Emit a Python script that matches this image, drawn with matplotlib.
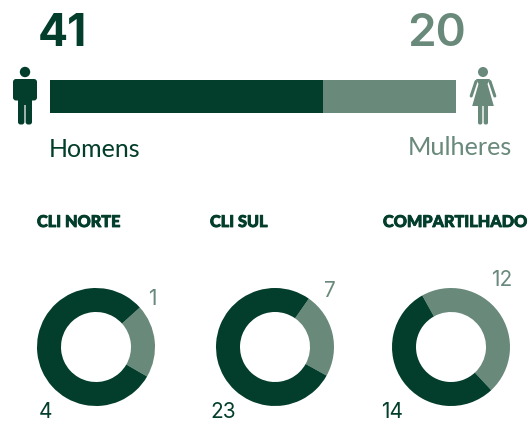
import matplotlib
matplotlib.use('Agg')
import matplotlib.pyplot as plt
import matplotlib.patheffects as pe
from matplotlib.patches import Circle, FancyBboxPatch, Polygon

DARK = '#033d2b'
LIGHT = '#69897b'

genders = ['Homens', 'Mulheres']
gender_totals = [41, 20]

regions = ['CLI NORTE', 'CLI SUL', 'COMPARTILHADO']
men = [4, 23, 14]
women = [1, 7, 12]
start_angles = [-30, -29, -47]

W, H = 532, 422
fig = plt.figure(figsize=(W / 100, H / 100), dpi=100)
plt.rcParams['font.family'] = ['Lato', 'DejaVu Sans']
DIGITS = ['Inter', 'DejaVu Sans']


def axes_px(x0, y0, x1, y1):
    # pixel box measured from the top left of the picture
    return fig.add_axes([x0 / W, 1 - y1 / H, (x1 - x0) / W, (y1 - y0) / H])


# overlay in pixel coordinates for the text and pictograms
bg = axes_px(0, 0, W, H)
bg.set_xlim(0, W)
bg.set_ylim(H, 0)
bg.axis('off')


def rbox(x0, y0, x1, y1, color, r=1.5):
    bg.add_patch(FancyBboxPatch((x0 + r, y0 + r), x1 - x0 - 2 * r, y1 - y0 - 2 * r,
                                boxstyle=f'round,pad={r},rounding_size={r}',
                                fc=color, ec='none'))


def man(cx, color):
    bg.add_patch(Circle((cx, 72), 5.2, fc=color, ec='none'))
    rbox(cx - 12, 79, cx + 12, 100.5, color, r=3)
    rbox(cx - 7, 84, cx + 7, 105, color, r=1)
    # thin gaps between arms and body
    for x in (cx - 8.4, cx + 7.6):
        bg.add_patch(Polygon([(x, 86), (x + 0.8, 86), (x + 0.8, 101), (x, 101)],
                             fc='white', ec='none', zorder=3))
    rbox(cx - 7, 100, cx - 0.6, 124.5, color, r=2.5)
    rbox(cx + 0.6, 100, cx + 7, 124.5, color, r=2.5)


def woman(cx, color):
    bg.add_patch(Circle((cx, 72), 5, fc=color, ec='none'))
    # arms
    bg.plot([cx - 7, cx - 11.8], [81.5, 96], color=color, lw=2.2, solid_capstyle='round')
    bg.plot([cx + 7, cx + 11.8], [81.5, 96], color=color, lw=2.2, solid_capstyle='round')
    # dress
    bg.add_patch(Polygon([(cx - 7, 79), (cx + 7, 79), (cx + 4.5, 84), (cx + 10.8, 106),
                          (cx - 10.8, 106), (cx - 4.5, 84)],
                         fc=color, ec='none'))
    rbox(cx - 5, 104, cx - 0.7, 124.5, color, r=1.8)
    rbox(cx + 0.7, 104, cx + 5, 124.5, color, r=1.8)


man(25, DARK)
woman(483, LIGHT)

# stacked bar
ax = axes_px(50, 80, 456, 113)
ax.barh([0], [gender_totals[0]], height=1, color=DARK)
ax.barh([0], [gender_totals[1]], left=gender_totals[0], height=1, color=LIGHT)
ax.set_xlim(0, sum(gender_totals))
ax.set_ylim(-0.5, 0.5)
ax.axis('off')

bg.text(38, 46, str(gender_totals[0]), fontsize=32, fontweight='bold', family=DIGITS, color=DARK, va='baseline')
bg.text(407, 46, str(gender_totals[1]), fontsize=33, fontweight='semibold', family=DIGITS, color=LIGHT, va='baseline')
bg.text(49, 157, genders[0], fontsize=18, color=DARK, va='baseline')
bg.text(408, 155, genders[1], fontsize=18.2, color=LIGHT, va='baseline')

# donuts
centers = [96, 275, 451]
title_x = [37, 210, 383]
men_x = [39, 210, 381]
women_pos = [(148, 305), (324, 297), (491, 286)]
heavy = [pe.withStroke(linewidth=0.6, foreground=DARK)]
for i, region in enumerate(regions):
    cx = centers[i]
    da = axes_px(cx - 59, 288, cx + 59, 406)
    da.pie([women[i], men[i]], colors=[LIGHT, DARK], startangle=start_angles[i], radius=1,
           wedgeprops={'width': 24 / 59, 'linewidth': 0})
    da.set_xlim(-1, 1)
    da.set_ylim(-1, 1)
    bg.text(title_x[i], 227, region, fontsize=11.7, fontweight='black', color=DARK, va='baseline',
            path_effects=heavy)
    bg.text(men_x[i], 418.5, str(men[i]), fontsize=15, family=DIGITS, color=DARK, va='baseline')
    bg.text(women_pos[i][0], women_pos[i][1], str(women[i]), fontsize=15, family=DIGITS,
            color=LIGHT, va='baseline')

fig.savefig('out.png', dpi=100)
